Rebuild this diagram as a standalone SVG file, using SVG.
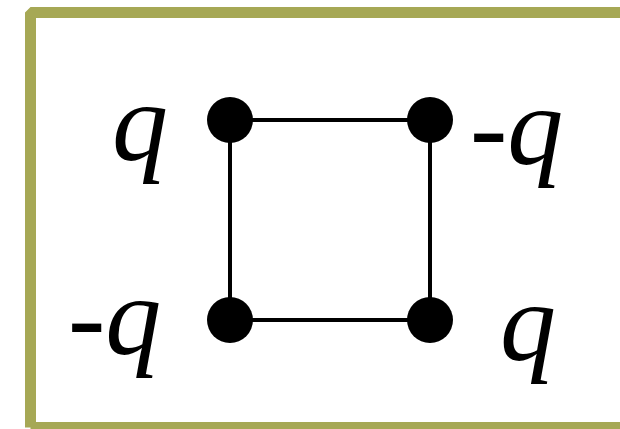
<svg xmlns="http://www.w3.org/2000/svg" width="620" height="429" viewBox="0 0 620 429">
<style>
.frame{fill:none;stroke:#a6a855;stroke-width:11;stroke-linejoin:bevel}
.edge{stroke:#000;stroke-width:4;fill:none}
.dot{fill:#000}
.lbl{font-family:"Liberation Serif",serif;font-style:italic;font-size:112px;fill:#000}
</style>
<rect width="620" height="429" fill="#fff"/>
<path class="frame" d="M30.5 427.5 V12.5 H640 M30.5 427.5 H640"/>
<g id="connectors">
<line class="edge" x1="230" y1="120" x2="430" y2="120"/>
<line class="edge" x1="230" y1="320" x2="430" y2="320"/>
<line class="edge" x1="230" y1="120" x2="230" y2="320"/>
<line class="edge" x1="430" y1="120" x2="430" y2="320"/>
</g>
<g id="n1"><circle class="dot" cx="230" cy="120" r="23"/><text class="lbl" x="112" y="160">q</text></g>
<g id="n2"><circle class="dot" cx="430" cy="120" r="23"/><text class="lbl" x="470" y="164">-q</text></g>
<g id="n3"><circle class="dot" cx="230" cy="320" r="23"/><text class="lbl" x="68" y="354">-q</text></g>
<g id="n4"><circle class="dot" cx="430" cy="320" r="23"/><text class="lbl" x="500" y="360">q</text></g>
</svg>
